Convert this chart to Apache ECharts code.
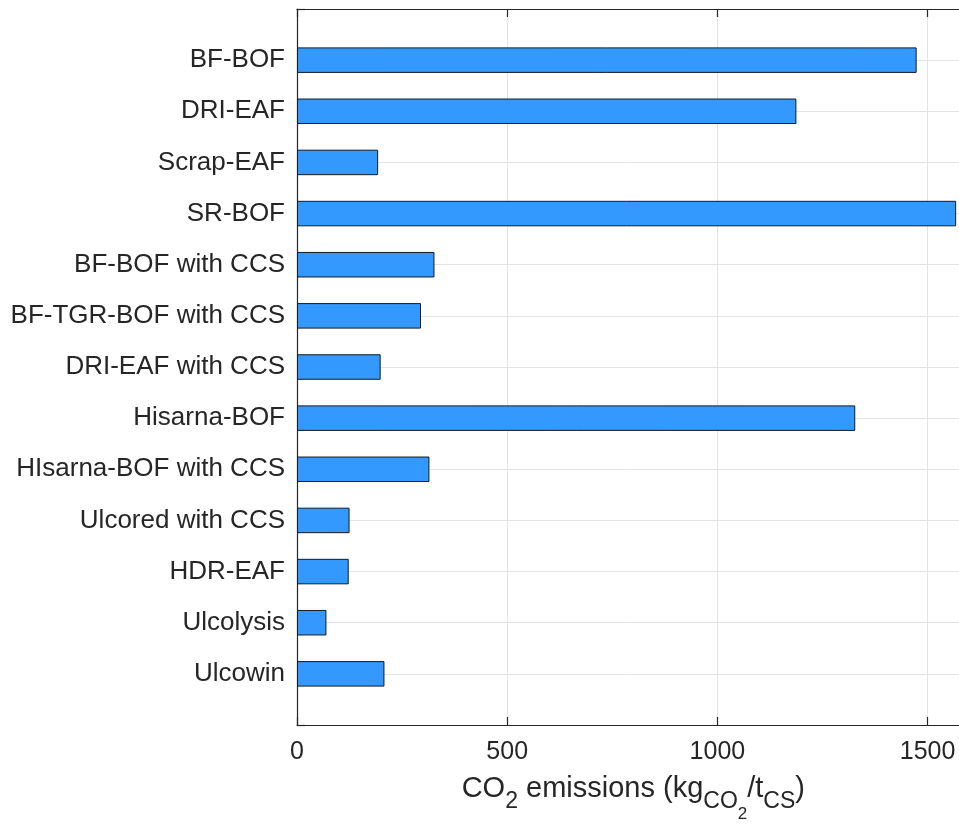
<!DOCTYPE html>
<html>
<head>
<meta charset="utf-8">
<script src="https://cdn.jsdelivr.net/npm/echarts@6/dist/echarts.min.js"></script>
<style>
  html, body { margin: 0; padding: 0; background: #fff; }
  #chart { width: 959px; height: 825px; }
</style>
</head>
<body>
<div id="chart"></div>
<script>
// Steelmaking routes, listed top to bottom
const routes = [
  'BF-BOF', 'DRI-EAF', 'Scrap-EAF', 'SR-BOF', 'BF-BOF with CCS',
  'BF-TGR-BOF with CCS', 'DRI-EAF with CCS', 'Hisarna-BOF',
  'HIsarna-BOF with CCS', 'Ulcored with CCS', 'HDR-EAF', 'Ulcolysis', 'Ulcowin'
];
// CO2 emissions per tonne of crude steel (kg CO2 / t CS)
const emissions = [1474, 1188, 193, 1568, 327, 295, 199, 1328, 315, 125, 123, 70, 208];
// x-axis ticks
const xTicks = [0, 500, 1000, 1500];

const ink = '#262626';
const fontFamily = '"Liberation Sans", Arial, Helvetica, sans-serif';

// Empty slots at both ends leave half a band of space above the first and below the last bar
const yData = [''].concat(routes, ['']);
const barData = ['-'].concat(emissions, ['-']);

const chart = echarts.init(document.getElementById('chart'), null, { renderer: 'canvas' });

const xCommon = {
  type: 'value',
  min: 0,
  max: 1600,
  interval: 500,
  axisLine: { show: true, lineStyle: { color: ink, width: 1.2 } },
  axisTick: { show: true, inside: true, length: 8, lineStyle: { color: ink, width: 1.2 } }
};

chart.setOption({
  animation: false,
  backgroundColor: '#ffffff',
  // the plot box runs past the right edge of the canvas
  grid: { left: 297, top: 9, width: 672.6, height: 716, containLabel: false, outerBoundsMode: 'none' },
  xAxis: [
    Object.assign({}, xCommon, {
      position: 'bottom',
      axisLabel: {
        color: ink, fontFamily: fontFamily, fontSize: 25, margin: 15,
        showMaxLabel: false,
        formatter: v => (xTicks.indexOf(v) >= 0 ? String(v) : '')
      },
      splitLine: { show: true, lineStyle: { color: '#e3e3e3', width: 1 } },
      name: '{n|CO}{s|2}{n| emissions (kg}{s|CO}{ss|2}{n|/t}{s|CS}{n|)}',
      nameLocation: 'middle',
      nameGap: 49,
      nameTextStyle: {
        color: ink, fontFamily: fontFamily,
        rich: {
          n:  { fontSize: 29, fontFamily: fontFamily, color: ink, verticalAlign: 'top', lineHeight: 32 },
          s:  { fontSize: 23, fontFamily: fontFamily, color: ink, verticalAlign: 'top', lineHeight: 24, padding: [16, 0, 0, 0] },
          ss: { fontSize: 17, fontFamily: fontFamily, color: ink, verticalAlign: 'top', lineHeight: 18, padding: [32, 0, 0, 0] }
        }
      }
    }),
    Object.assign({}, xCommon, {
      position: 'top',
      axisLabel: { show: false },
      splitLine: { show: false }
    })
  ],
  yAxis: {
    type: 'category',
    inverse: true,
    boundaryGap: false,
    data: yData,
    axisLine: { show: true, lineStyle: { color: ink, width: 1.2 } },
    axisTick: { show: true, inside: true, length: 8, lineStyle: { color: ink, width: 1.2 } },
    axisLabel: { color: ink, fontFamily: fontFamily, fontSize: 26, margin: 12 },
    splitLine: { show: true, lineStyle: { color: '#e3e3e3', width: 1 } }
  },
  series: [{
    type: 'bar',
    xAxisIndex: 0,
    data: barData,
    barWidth: 25.5,
    itemStyle: { color: '#3399ff', borderColor: '#111a24', borderWidth: 1 },
    z: 3
  }]
});
</script>
</body>
</html>
